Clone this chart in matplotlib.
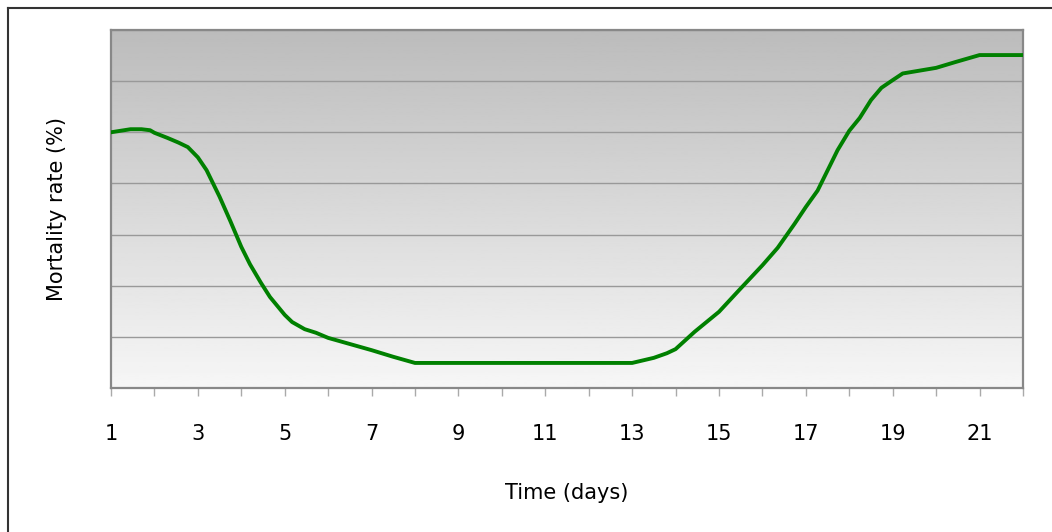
import numpy as np
import matplotlib
matplotlib.use("Agg")
import matplotlib.pyplot as plt
from matplotlib.lines import Line2D

# curve (day, mortality value on a 0-70 grid)
days = [1.0, 1.45, 1.7, 1.9, 2.0, 2.3, 2.55, 2.77, 3.0, 3.2, 3.5, 3.75,
        4.0, 4.2, 4.45, 4.66, 5.0, 5.17, 5.46, 5.72, 6.0, 6.5, 7.0, 7.5,
        8.0, 9.0, 10.0, 11.0, 12.0, 13.0, 13.5, 13.8, 14.0, 14.44, 15.0,
        15.47, 16.0, 16.35, 16.74, 17.0, 17.27, 17.55, 17.73, 18.0, 18.24,
        18.5, 18.74, 19.0, 19.23, 20.0, 20.43, 21.0, 22.0]
mortality = [50.0, 50.6, 50.6, 50.4, 49.9, 48.9, 48.0, 47.1, 45.1, 42.6, 37.4, 32.6,
             27.6, 24.2, 20.6, 17.8, 14.3, 12.9, 11.5, 10.8, 9.8, 8.6, 7.4, 6.1,
             4.9, 4.9, 4.9, 4.9, 4.9, 4.9, 5.9, 6.8, 7.6, 11.0, 14.9,
             19.2, 24.0, 27.4, 32.1, 35.4, 38.6, 43.4, 46.5, 50.3, 52.8,
             56.3, 58.7, 60.2, 61.5, 62.6, 63.7, 65.1, 65.1]

x_ticks = list(range(1, 23))
x_labels = [str(d) if d % 2 == 1 else "" for d in x_ticks]

plt.rcParams["font.family"] = ["DejaVu Sans"]

fig = plt.figure(figsize=(10.52, 5.32), dpi=100)
ax = fig.add_axes([111 / 1052, 1 - 388 / 532, 912 / 1052, 358 / 532])

# gradient background
grad = np.linspace(0, 1, 256).reshape(-1, 1)
ax.imshow(grad, extent=[1, 22, 0, 70], aspect="auto", cmap="gray",
          vmin=-3.2, vmax=1.15, origin="upper", zorder=0)

ax.set_xlim(1, 22)
ax.set_ylim(0, 70)

ax.set_yticks(range(0, 71, 10))
ax.set_yticklabels([])
ax.tick_params(axis="y", length=0)
ax.grid(True, axis="y", color="#999999", linewidth=1.0, zorder=1)

ax.set_xticks(x_ticks)
ax.set_xticklabels(x_labels, fontsize=15)
ax.tick_params(axis="x", length=6, width=1, color="#aaaaaa", pad=20)

for s in ax.spines.values():
    s.set_color("#888888")
    s.set_linewidth(1.6)

ax.plot(days, mortality, color="#008000", linewidth=2.8, zorder=3,
        solid_joinstyle="round")

ax.set_xlabel("Time (days)", fontsize=15, labelpad=28)
ax.set_ylabel("Mortality rate (%)", fontsize=15, labelpad=28)

# outer frame (cropped)
fig.add_artist(Line2D([8 / 1052, 1], [1 - 8 / 532, 1 - 8 / 532],
                      transform=fig.transFigure, color="#333333", linewidth=1.5))
fig.add_artist(Line2D([8 / 1052, 8 / 1052], [0, 1 - 8 / 532],
                      transform=fig.transFigure, color="#333333", linewidth=1.5))

fig.savefig("out.png", dpi=100)
